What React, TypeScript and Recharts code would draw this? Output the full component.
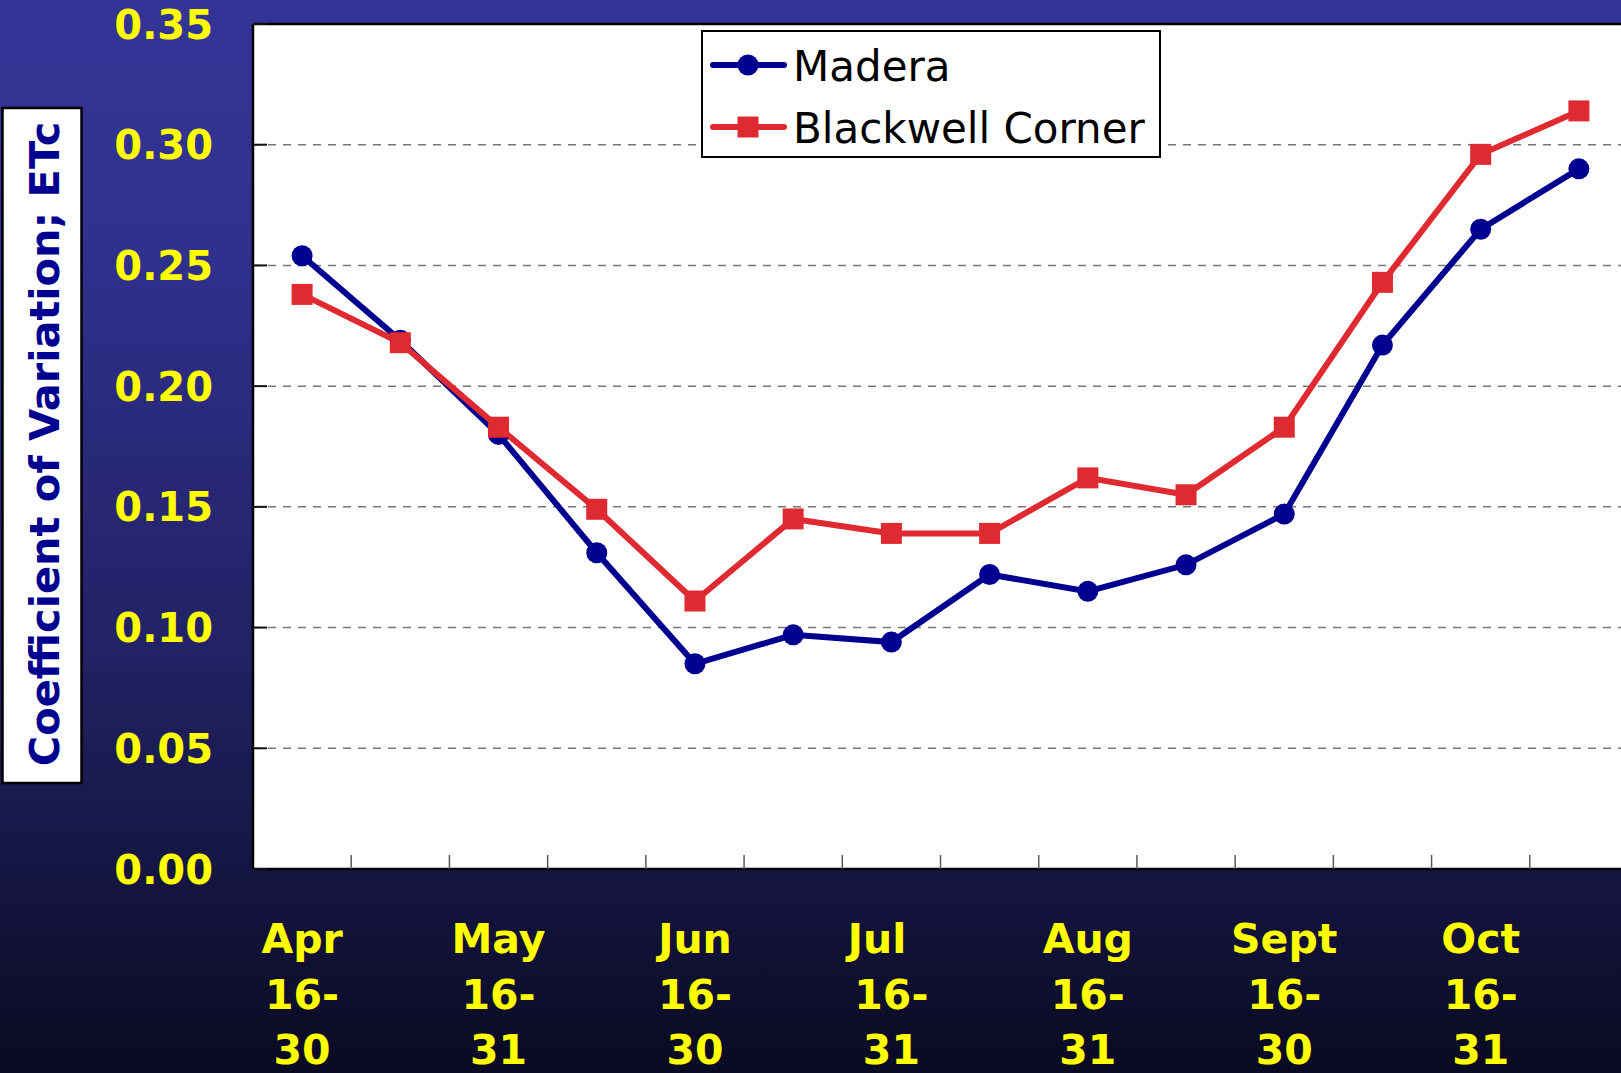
import React from 'react';
import { LineChart, Line, XAxis, YAxis, CartesianGrid, ReferenceLine } from 'recharts';

const categories = [
  'Apr 16-30', 'May 1-15', 'May 16-31', 'Jun 1-15', 'Jun 16-30', 'Jul 1-15', 'Jul 16-31',
  'Aug 1-15', 'Aug 16-31', 'Sep 1-15', 'Sept 16-30', 'Oct 1-15', 'Oct 16-31', 'Nov 1-15',
];
const tickLabels: string[][] = [
  ['Apr', '16-', '30'], [], ['May', '16-', '31'], [], ['Jun', '16-', '30'], [],
  ['Jul\u00a0\u00a0', '16-', '31'], [], ['Aug', '16-', '31'], [], ['Sept', '16-', '30'], [],
  ['Oct', '16-', '31'], [],
];
const madera = [0.254, 0.219, 0.18, 0.131, 0.085, 0.097, 0.094, 0.122, 0.115, 0.126, 0.147, 0.217, 0.265, 0.29];
const blackwell = [0.238, 0.218, 0.183, 0.149, 0.111, 0.145, 0.139, 0.139, 0.162, 0.155, 0.183, 0.243, 0.296, 0.314];
const yTicks = [0, 0.05, 0.1, 0.15, 0.2, 0.25, 0.3, 0.35];
const seriesNames = ['Madera', 'Blackwell Corner'];
const seriesColors = ['#000090', '#E02A31'];
const yTitle = 'Coefficient of Variation; ETc';

const data = categories.map((c, i) => ({ cat: c, madera: madera[i], blackwell: blackwell[i] }));

const FONT = 'DejaVu Sans';

const SquareDot = (props: any) => {
  const { cx, cy, index } = props;
  if (cx == null || cy == null) return <g key={index} />;
  return <rect key={index} x={cx - 10.5} y={cy - 10.5} width={21} height={21} fill={seriesColors[1]} />;
};

const XTick = (props: any) => {
  const { x, y, payload, index } = props;
  const half = payload && typeof payload.offset === 'number' && payload.offset > 0 ? payload.offset : 49;
  const lines = tickLabels[index] || [];
  return (
    <g>
      {index < categories.length - 1 && (
        <line x1={x + half} x2={x + half} y1={y} y2={y - 14} stroke="#5a5a5a" strokeWidth={1.5} />
      )}
      {lines.map((t, i) => (
        <text
          key={i}
          x={x}
          y={y + 84 + i * 55.5}
          textAnchor="middle"
          fill="#FFFF00"
          fontSize={41}
          fontWeight="bold"
          fontFamily={FONT}
          style={{ whiteSpace: 'pre' }}
        >
          {t}
        </text>
      ))}
    </g>
  );
};

const YTick = (props: any) => {
  const { x, y, payload } = props;
  return (
    <g>
      <line x1={x + 40} x2={x + 54} y1={y} y2={y} stroke="#111" strokeWidth={2} />
      <text x={x} y={y + 14.5} textAnchor="end" fill="#FFFF00" fontSize={40} fontWeight="bold" fontFamily={FONT}>
        {Number(payload.value).toFixed(2)}
      </text>
    </g>
  );
};

export default function App() {
  return (
    <div
      style={{
        position: 'absolute',
        left: 0,
        top: 0,
        width: 1621,
        height: 1073,
        overflow: 'hidden',
        background: 'linear-gradient(to bottom, #343496 0%, #313191 20%, #222266 60%, #0a0a22 100%)',
        fontFamily: FONT,
      }}
    >
      <LineChart
        width={1628}
        height={1073}
        data={data}
        margin={{ top: 24, right: 0, left: 0, bottom: 0 }}
        style={{ fontFamily: FONT }}
      >
        <CartesianGrid
          vertical={false}
          horizontal={true}
          fill="#ffffff"
          fillOpacity={1}
          stroke="#777777"
          strokeWidth={1.5}
          strokeDasharray="8 7"
        />
        <XAxis
          dataKey="cat"
          type="category"
          scale="band"
          interval={0}
          height={204}
          tickSize={0}
          tickMargin={0}
          tickLine={false}
          axisLine={{ stroke: '#000', strokeWidth: 2.5 }}
          tick={<XTick />}
        />
        <YAxis
          type="number"
          domain={[0, 0.35]}
          ticks={yTicks}
          width={253}
          tickSize={0}
          tickMargin={40}
          tickLine={false}
          axisLine={{ stroke: '#000', strokeWidth: 2.5 }}
          tick={<YTick />}
          interval={0}
        />
        <ReferenceLine y={0.35} stroke="#000" strokeWidth={2.5} />
        <Line
          type="linear"
          dataKey="madera"
          name={seriesNames[0]}
          stroke={seriesColors[0]}
          strokeWidth={6}
          dot={{ r: 10.5, fill: seriesColors[0], stroke: 'none' }}
          activeDot={false}
          isAnimationActive={false}
        />
        <Line
          type="linear"
          dataKey="blackwell"
          name={seriesNames[1]}
          stroke={seriesColors[1]}
          strokeWidth={6}
          dot={<SquareDot />}
          activeDot={false}
          isAnimationActive={false}
        />
      </LineChart>
      <svg
        width={1621}
        height={1073}
        style={{ position: 'absolute', left: 0, top: 0, pointerEvents: 'none' }}
      >
        <rect x={2.5} y={108} width={79} height={675} fill="#fff" stroke="#000" strokeWidth={2.5} />
        <text
          x={59}
          y={444}
          transform="rotate(-90, 59, 444)"
          textAnchor="middle"
          fill="#000090"
          fontSize={41.5}
          fontWeight="bold"
          fontFamily={FONT}
        >
          {yTitle}
        </text>
        <rect x={702} y={31} width={458} height={126} fill="#fff" stroke="#000" strokeWidth={2} />
        {seriesNames.map((n, i) => {
          const cy = i === 0 ? 65 : 127;
          return (
            <g key={n}>
              <line x1={713} x2={784} y1={cy} y2={cy} stroke={seriesColors[i]} strokeWidth={6} strokeLinecap="round" />
              {i === 0 ? (
                <circle cx={748} cy={cy} r={10.5} fill={seriesColors[i]} />
              ) : (
                <rect x={737.5} y={cy - 10.5} width={21} height={21} fill={seriesColors[i]} />
              )}
              <text x={793} y={cy + 16} fontSize={42} fill="#000" fontFamily={FONT}>
                {n}
              </text>
            </g>
          );
        })}
      </svg>
    </div>
  );
}
